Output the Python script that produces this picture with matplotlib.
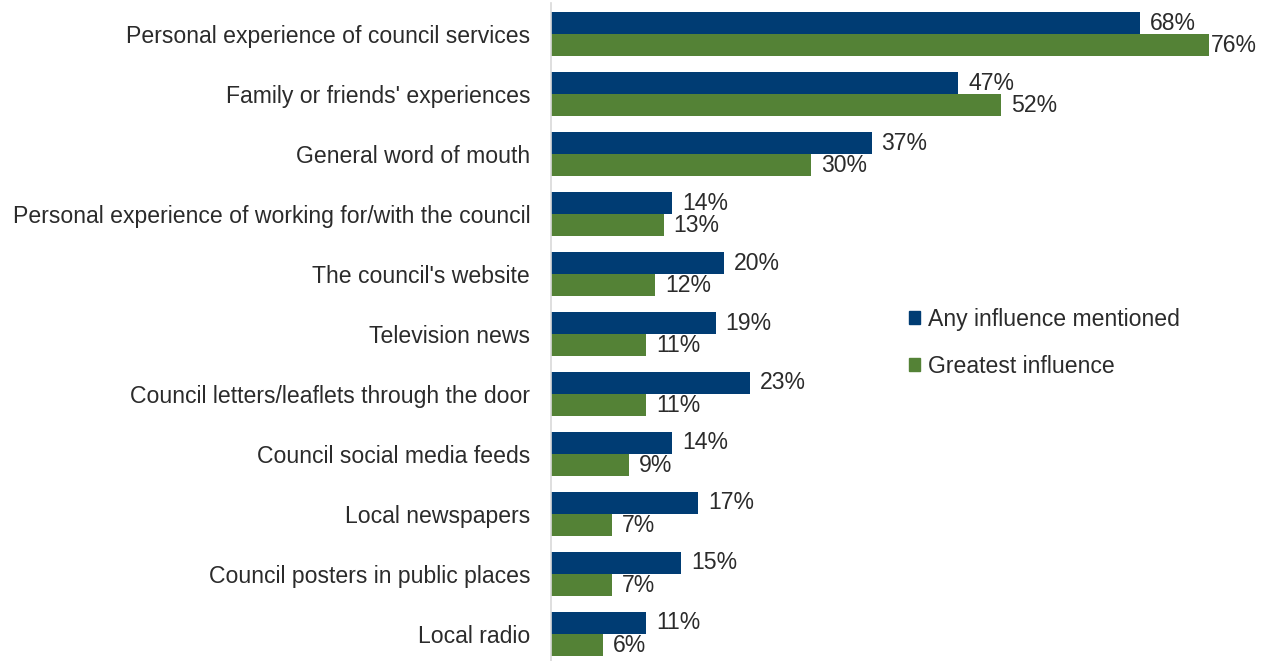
import matplotlib
matplotlib.use("Agg")
import matplotlib.pyplot as plt
from matplotlib.patches import Patch
import numpy as np

categories = [
    "Personal experience of council services",
    "Family or friends' experiences",
    "General word of mouth",
    "Personal experience of working for/with the council",
    "The council's website",
    "Television news",
    "Council letters/leaflets through the door",
    "Council social media feeds",
    "Local newspapers",
    "Council posters in public places",
    "Local radio",
]
any_influence = [68, 47, 37, 14, 20, 19, 23, 14, 17, 15, 11]
greatest_influence = [76, 52, 30, 13, 12, 11, 11, 9, 7, 7, 6]
series_names = ["Any influence mentioned", "Greatest influence"]

blue = "#003C73"
green = "#548236"
text_color = "#2B2B2B"
fs = 16.6

plt.rcParams["font.family"] = ["Liberation Sans", "DejaVu Sans"]

W, H = 1264, 661
fig = plt.figure(figsize=(W / 100, H / 100), dpi=100)
ax_left, ax_top, ax_bottom = 551, 3, 661
ax_width = 693
ax = fig.add_axes([ax_left / W, (H - ax_bottom) / H, ax_width / W, (ax_bottom - ax_top) / H])

y = np.arange(len(categories))
bh = 0.367
ax.barh(y - bh / 2, any_influence, height=bh, color=blue)
ax.barh(y + bh / 2, greatest_influence, height=bh, color=green)

ax.set_xlim(0, 80)
ax.set_ylim(10.45, -0.517)

vmax = max(max(any_influence), max(greatest_influence))


def put_label(v, yc):
    # the longest bar's label sits tight against its end so it stays inside the figure
    off = 2 if v == vmax else 10
    ax.annotate(f"{v}%", (v, yc), xytext=(off, 0), textcoords="offset pixels",
                ha="left", va="center", fontsize=fs, color=text_color)


for yi, v in zip(y, any_influence):
    put_label(v, yi - bh / 2)
for yi, v in zip(y, greatest_influence):
    put_label(v, yi + bh / 2)

ax.set_yticks(y)
ax.set_yticklabels(categories, fontsize=fs, color=text_color)
ax.tick_params(axis="y", length=0, pad=15)
ax.set_xticks([])
for s in ["top", "right", "bottom"]:
    ax.spines[s].set_visible(False)
ax.spines["left"].set_color("#D9D9D9")
ax.spines["left"].set_linewidth(1.2)

handles = [Patch(color=blue), Patch(color=green)]
leg = fig.legend(handles, series_names, loc="upper left",
                 bbox_to_anchor=(888 / W, 1 - 287 / H), frameon=False,
                 fontsize=fs, handlelength=0.5, handleheight=0.5,
                 handletextpad=0.35, labelspacing=1.05, labelcolor=text_color)

fig.savefig("out.png", dpi=100)
